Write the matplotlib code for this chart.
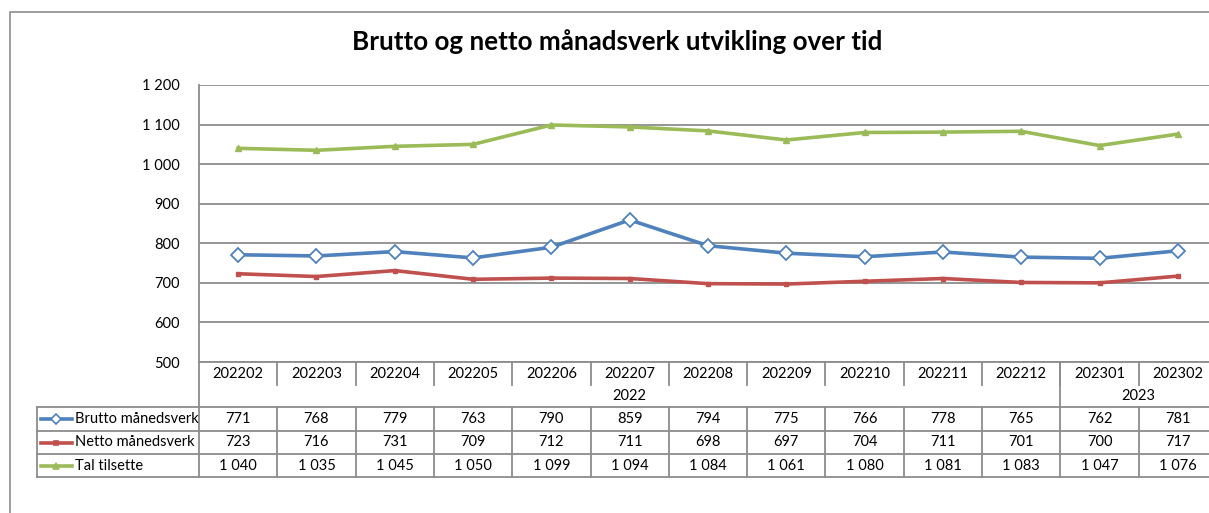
import matplotlib
matplotlib.use("Agg")
import matplotlib.pyplot as plt
from matplotlib.lines import Line2D
from matplotlib.patches import Rectangle
from matplotlib.transforms import blended_transform_factory

# ---- data ----
categories = ["202202", "202203", "202204", "202205", "202206", "202207", "202208",
              "202209", "202210", "202211", "202212", "202301", "202302"]
years = ["2022"] * 11 + ["2023"] * 2
brutto = [771, 768, 779, 763, 790, 859, 794, 775, 766, 778, 765, 762, 781]
netto = [723, 716, 731, 709, 712, 711, 698, 697, 704, 711, 701, 700, 717]
tilsette = [1040, 1035, 1045, 1050, 1099, 1094, 1084, 1061, 1080, 1081, 1083, 1047, 1076]
series_names = ["Brutto månedsverk", "Netto månedsverk", "Tal tilsette"]
yticks = [500, 600, 700, 800, 900, 1000, 1100, 1200]
title = "Brutto og netto månadsverk utvikling over tid"

plt.rcParams['font.family'] = ['Lato', 'DejaVu Sans']

W, H = 1209, 513
fig = plt.figure(figsize=(W / 100, H / 100), dpi=100)
fig.patch.set_facecolor("white")

def fx(p):
    return p / W

def fy(p):
    return 1 - p / H

GRID = "#8c8c8c"
colors = ["#4F81BD", "#C0504D", "#9BBB59"]

# chart border
fig.add_artist(Rectangle((fx(10), fy(600)), fx(1300), fy(12) - fy(600),
                         transform=fig.transFigure, fill=False, edgecolor=GRID, lw=1.2))

left, right, top, bottom = 199, 1217, 85, 362
ax = fig.add_axes([fx(left), fy(bottom), fx(right - left), fy(top) - fy(bottom)])
ax.set_xlim(-0.5, len(categories) - 0.5)
ax.set_ylim(500, 1200)
ax.set_yticks(yticks)
ax.set_yticklabels([f"{v:,}".replace(",", " ") for v in yticks], fontsize=10.5)
ax.tick_params(axis="y", length=0, pad=14)
ax.tick_params(axis="x", length=0, labelbottom=False)
ax.set_xticks([])
ax.grid(axis="y", color=GRID, lw=1.3)
ax.set_axisbelow(True)
for s in ["top", "right"]:
    ax.spines[s].set_visible(False)
for s in ["left", "bottom"]:
    ax.spines[s].set_color(GRID)
    ax.spines[s].set_linewidth(1.3)
ax.patch.set_visible(False)

x = list(range(len(categories)))
ax.plot(x, brutto, color=colors[0], lw=2.6, marker="D", ms=7, mfc="white",
        mec=colors[0], mew=1.3, clip_on=False)
ax.plot(x, netto, color=colors[1], lw=2.6, marker="s", ms=2.5, mfc=colors[1],
        mec=colors[1], clip_on=False)
ax.plot(x, tilsette, color=colors[2], lw=2.6, marker="^", ms=4, mfc=colors[2],
        mec=colors[2], clip_on=False)

fig.text(fx(617), fy(42), title, ha="center", va="center", fontsize=18.7, fontweight="bold")

# ---- data table ----
bt = blended_transform_factory(ax.transData, fig.transFigure)
tkw = dict(color=GRID, lw=1.3)

# left axis line continues to table bottom
fig.add_artist(Line2D([fx(left), fx(left)], [fy(bottom), fy(477)], transform=fig.transFigure, **tkw))

# category row separators
n = len(categories)
for i in range(n):
    b = i + 0.5
    fig.add_artist(Line2D([b, b], [fy(362), fy(385)], transform=bt, **tkw))
    fig.text(i, fy(374), categories[i], transform=bt, ha="center", va="center", fontsize=10.5)

# year groups
groups = []
for i, yv in enumerate(years):
    if groups and groups[-1][0] == yv:
        groups[-1][2] = i
    else:
        groups.append([yv, i, i])
for yv, a, b in groups:
    fig.text((a + b) / 2, fy(396), yv, transform=bt, ha="center", va="center", fontsize=10.5)
    fig.add_artist(Line2D([b + 0.5, b + 0.5], [fy(362), fy(407)], transform=bt, **tkw))

# data rows
row_edges = [407, 431, 454, 477]
for yy in row_edges:
    fig.add_artist(Line2D([fx(37), fx(1300)], [fy(yy), fy(yy)], transform=fig.transFigure, **tkw))
fig.add_artist(Line2D([fx(37), fx(37)], [fy(407), fy(477)], transform=fig.transFigure, **tkw))
for i in range(n):
    b = i + 0.5
    fig.add_artist(Line2D([b, b], [fy(407), fy(477)], transform=bt, **tkw))

all_series = [brutto, netto, tilsette]
markers = [("D", 5.5, "white"), ("s", 2.5, None), ("^", 4, None)]
for r, (name, vals) in enumerate(zip(series_names, all_series)):
    yc = (row_edges[r] + row_edges[r + 1]) / 2
    m, ms, mfc = markers[r]
    fig.add_artist(Line2D([fx(41), fx(72)], [fy(yc), fy(yc)], transform=fig.transFigure,
                          color=colors[r], lw=2.6))
    fig.add_artist(Line2D([fx(56.5)], [fy(yc)], transform=fig.transFigure, marker=m, ms=ms,
                          mfc=mfc if mfc else colors[r], mec=colors[r], mew=1.2, lw=0))
    fig.text(fx(75), fy(yc), name, ha="left", va="center", fontsize=10.5)
    for i, v in enumerate(vals):
        fig.text(i, fy(yc), f"{v:,}".replace(",", " "), transform=bt,
                 ha="center", va="center", fontsize=10.5)

fig.savefig("out.png", dpi=100)
